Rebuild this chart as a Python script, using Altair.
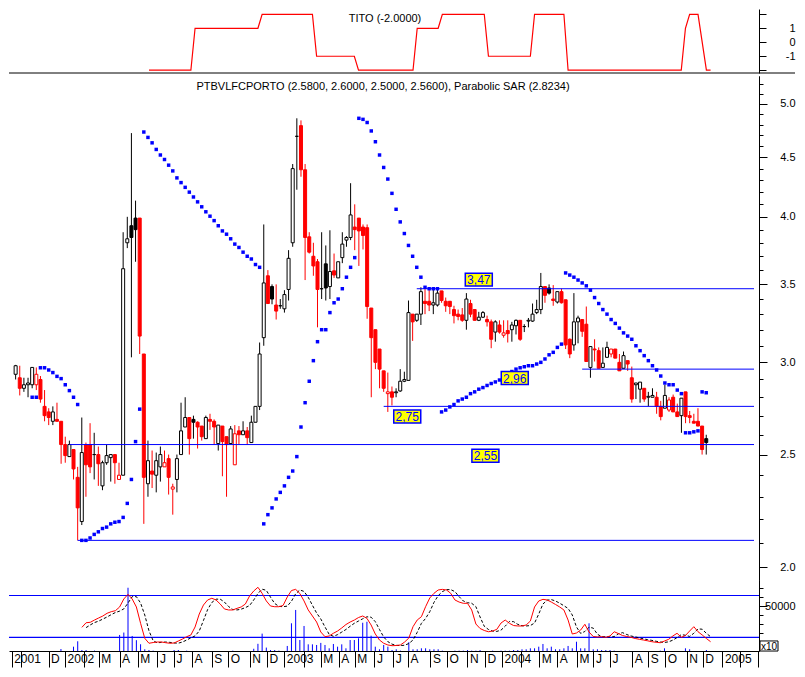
import json
import altair as alt
import pandas as pd

FONT = "Liberation Sans"
BLUE = "#0000ff"
RED = "#ff0000"

# ---------------- data (weekly bars, week 1 = early Oct 2001) ----------------
opens = [
    2.93, 2.91, 2.85, 2.87, 2.87, 2.87, 2.90, 2.75, 2.72, 2.67,
    2.68, 2.67, 2.55, 2.49, 2.525, 2.39, 2.19, 2.55, 2.55, 2.50,
    2.50, 2.35, 2.46, 2.485, 2.50, 2.38, 2.40, 3.80, 3.93, 3.99,
    3.99, 3.05, 2.36, 2.42, 2.40, 2.44, 2.44, 2.48, 2.335, 2.38,
    2.50, 2.64, 2.69, 2.68, 2.665, 2.645, 2.58, 2.68, 2.67, 2.555,
    2.645, 2.59, 2.555, 2.45, 2.62, 2.60, 2.62, 2.56, 2.665, 2.75,
    3.15, 3.56, 3.485, 3.36, 3.355, 3.335, 3.465, 3.80, 4.69, 4.79,
    4.39, 3.845, 3.70, 3.66, 3.47, 3.645, 3.485, 3.595, 3.545, 3.69,
    3.82, 3.84, 3.92, 3.99, 3.92, 3.915, 3.34, 3.20, 3.08, 2.95,
    2.82, 2.83, 2.825, 2.835, 2.89, 2.895, 3.30, 3.26, 3.30, 3.385,
    3.385, 3.36, 3.36, 3.455, 3.385, 3.385, 3.33, 3.30, 3.295, 3.26,
    3.37, 3.33, 3.26, 3.28, 3.265, 3.25, 3.185, 3.23, 3.165, 3.195,
    3.20, 3.225, 3.26, 3.22, 3.255, 3.255, 3.31, 3.33, 3.485, 3.475,
    3.40, 3.38, 3.45, 3.395, 3.14, 3.105, 3.25, 3.265, 3.235, 2.97,
    3.08, 3.07, 2.97, 3.03, 3.05, 3.08, 3.00, 2.965, 3.01, 2.91,
    2.87, 2.845, 2.85, 2.80, 2.80, 2.80, 2.75, 2.74, 2.73, 2.80,
    2.72, 2.70, 2.83, 2.70, 2.67, 2.67, 2.645, 2.58]
highs = [
    2.985, 2.98, 2.91, 2.91, 2.97, 2.97, 2.92, 2.84, 2.74, 2.75,
    2.77, 2.67, 2.59, 2.57, 2.525, 2.44, 2.69, 2.56, 2.66, 2.61,
    2.54, 2.47, 2.55, 2.50, 2.50, 2.46, 3.88, 4.00, 4.72, 4.13,
    3.99, 3.05, 2.57, 2.52, 2.51, 2.54, 2.52, 2.50, 2.36, 2.50,
    2.77, 2.80, 2.69, 2.70, 2.67, 2.645, 2.70, 2.71, 2.68, 2.65,
    2.645, 2.59, 2.645, 2.65, 2.645, 2.67, 2.64, 2.70, 2.75, 3.12,
    3.94, 3.60, 3.50, 3.50, 3.40, 3.46, 3.745, 4.44, 4.86, 4.84,
    4.44, 3.88, 3.80, 3.68, 3.88, 3.78, 3.895, 3.72, 3.66, 3.88,
    3.85, 4.275, 4.10, 3.99, 3.94, 3.94, 3.34, 3.20, 3.08, 2.95,
    2.94, 2.86, 2.85, 2.96, 2.945, 3.39, 3.30, 3.30, 3.48, 3.47,
    3.47, 3.47, 3.47, 3.455, 3.41, 3.385, 3.355, 3.33, 3.34, 3.44,
    3.395, 3.33, 3.315, 3.32, 3.29, 3.265, 3.26, 3.26, 3.26, 3.26,
    3.25, 3.265, 3.26, 3.235, 3.275, 3.37, 3.395, 3.58, 3.485, 3.50,
    3.495, 3.45, 3.47, 3.395, 3.145, 3.44, 3.29, 3.265, 3.35, 3.095,
    3.14, 3.09, 3.09, 3.125, 3.08, 3.08, 3.05, 3.065, 3.01, 2.975,
    2.88, 2.885, 2.85, 2.83, 2.85, 2.83, 2.78, 2.87, 2.80, 2.815,
    2.765, 2.795, 2.83, 2.725, 2.71, 2.74, 2.645, 2.60]
lows = [
    2.90, 2.81, 2.83, 2.80, 2.85, 2.84, 2.77, 2.67, 2.65, 2.65,
    2.67, 2.455, 2.46, 2.49, 2.38, 2.11, 2.175, 2.30, 2.41, 2.38,
    2.35, 2.33, 2.45, 2.37, 2.36, 2.38, 2.40, 3.76, 3.03, 3.66,
    3.05, 2.18, 2.30, 2.34, 2.32, 2.37, 2.44, 2.31, 2.22, 2.32,
    2.50, 2.64, 2.50, 2.58, 2.53, 2.57, 2.58, 2.625, 2.55, 2.52,
    2.395, 2.30, 2.55, 2.45, 2.55, 2.60, 2.55, 2.56, 2.665, 2.73,
    3.10, 3.37, 3.365, 3.265, 3.335, 3.31, 3.39, 3.77, 4.22, 4.33,
    3.53, 3.72, 3.56, 3.215, 3.40, 3.39, 3.40, 3.545, 3.545, 3.65,
    3.77, 3.82, 3.745, 3.63, 3.75, 3.27, 2.80, 2.96, 2.85, 2.83,
    2.72, 2.755, 2.80, 2.83, 2.885, 2.895, 3.13, 3.25, 3.23, 3.30,
    3.32, 3.30, 3.35, 3.375, 3.315, 3.30, 3.24, 3.26, 3.25, 3.20,
    3.28, 3.26, 3.255, 3.275, 3.22, 3.085, 3.125, 3.175, 3.15, 3.12,
    3.125, 3.17, 3.13, 3.185, 3.215, 3.25, 3.30, 3.30, 3.375, 3.43,
    3.355, 3.37, 3.37, 3.08, 3.025, 3.07, 3.115, 3.155, 3.005, 2.91,
    3.005, 2.965, 2.97, 3.03, 3.03, 3.025, 2.95, 2.965, 2.95, 2.77,
    2.79, 2.77, 2.775, 2.75, 2.80, 2.71, 2.675, 2.74, 2.72, 2.72,
    2.695, 2.61, 2.66, 2.66, 2.66, 2.645, 2.50, 2.50]
closes = [
    2.98, 2.85, 2.87, 2.88, 2.97, 2.93, 2.79, 2.70, 2.69, 2.72,
    2.67, 2.55, 2.495, 2.55, 2.43, 2.25, 2.51, 2.45, 2.44, 2.50,
    2.455, 2.46, 2.495, 2.50, 2.46, 2.40, 3.61, 3.83, 3.84, 3.90,
    3.16, 2.39, 2.47, 2.405, 2.47, 2.50, 2.46, 2.39, 2.345, 2.48,
    2.62, 2.69, 2.58, 2.665, 2.64, 2.59, 2.69, 2.67, 2.64, 2.65,
    2.565, 2.55, 2.63, 2.605, 2.60, 2.62, 2.585, 2.665, 2.75, 3.05,
    3.51, 3.37, 3.40, 3.32, 3.355, 3.43, 3.685, 4.40, 4.69, 4.39,
    3.84, 3.73, 3.63, 3.465, 3.47, 3.475, 3.59, 3.565, 3.66, 3.79,
    3.84, 4.015, 3.90, 3.89, 3.855, 3.35, 3.15, 3.00, 2.96, 2.85,
    2.83, 2.80, 2.83, 2.89, 2.90, 3.31, 3.25, 3.30, 3.45, 3.37,
    3.36, 3.375, 3.44, 3.39, 3.355, 3.35, 3.29, 3.285, 3.26, 3.40,
    3.30, 3.26, 3.28, 3.31, 3.25, 3.14, 3.25, 3.185, 3.18, 3.175,
    3.23, 3.26, 3.14, 3.22, 3.26, 3.30, 3.33, 3.485, 3.425, 3.44,
    3.39, 3.45, 3.375, 3.105, 3.05, 3.25, 3.275, 3.19, 3.005, 3.095,
    3.075, 2.965, 2.995, 3.09, 3.08, 3.025, 2.95, 3.04, 2.99, 2.79,
    2.88, 2.885, 2.79, 2.805, 2.81, 2.75, 2.695, 2.81, 2.785, 2.72,
    2.695, 2.795, 2.695, 2.69, 2.66, 2.645, 2.525, 2.56]
sar = [
    None, None, None, None, 2.80, 2.80, 2.968, 2.968, 2.955, 2.94,
    2.918, 2.905, 2.87, 2.837, 2.80, 2.76, 2.11, 2.11, 2.12, 2.135,
    2.146, 2.16, 2.166, 2.18, 2.187, 2.19, 2.208, 2.27, 2.38, 2.565,
    2.735, 4.73, 4.68, 4.63, 4.57, 4.52, 4.48, 4.43, 4.38, 4.32,
    4.28, 4.24, 4.20, 4.16, 4.12, 4.08, 4.04, 4.005, 3.97, 3.93,
    3.89, 3.865, 3.83, 3.79, 3.765, 3.73, 3.70, 3.68, 3.64, 3.62,
    2.18, 2.22, 2.25, 2.29, 2.32, 2.35, 2.39, 2.42, 2.49, 2.64,
    2.77, 2.89, 3.01, 3.125, 3.20, 3.20, 3.31, 3.375, 3.40, 3.47,
    3.55, 3.62, 3.69, 4.86, 4.85, 4.82, 4.74, 4.64, 4.52, 4.41,
    4.31, 4.19, 4.06, 3.96, 3.87, 3.78, 3.70, 3.62, 3.55, 3.48,
    3.47, 3.47, 3.47, 2.72, 2.73, 2.747, 2.76, 2.78, 2.79, 2.80,
    2.82, 2.83, 2.845, 2.854, 2.866, 2.877, 2.886, 2.897, 2.91, 2.925,
    2.946, 2.96, 2.968, 2.974, 2.98, 2.98, 2.99, 3.00, 3.02, 3.045,
    3.06, 3.09, 3.11, 3.58, 3.565, 3.55, 3.53, 3.51, 3.49, 3.46,
    3.41, 3.37, 3.33, 3.30, 3.265, 3.24, 3.21, 3.18, 3.16, 3.14,
    3.10, 3.07, 3.04, 3.01, 2.98, 2.955, 2.92, 2.88, 2.87, 2.87,
    2.84, 2.82, 2.61, 2.61, 2.615, 2.62, 2.83, 2.825]
volume = [
    0, 0, 0, 0, 0, 0, 0, 0, 0, 0,
    0, 0, 2200, 0, 0, 4800, 10800, 1100, 1100, 0,
    500, 0, 0, 0, 0, 0, 17800, 20500, 70300, 16700,
    12000, 7500, 1900, 1100, 400, 0, 0, 0, 0, 1100,
    1100, 0, 400, 0, 0, 0, 0, 0, 0, 0,
    0, 0, 0, 400, 0, 0, 0, 0, 2500, 8000,
    19300, 3800, 1100, 1100, 400, 0, 5600, 30800, 45600, 12200,
    27800, 7400, 7400, 6700, 9000, 6700, 3000, 7800, 4800, 7400,
    3000, 12200, 12200, 14100, 31400, 32500, 17000, 4800, 1900, 6700,
    4800, 1100, 1900, 400, 0, 9800, 1900, 1900, 3000, 3000,
    1900, 1900, 1900, 400, 0, 0, 400, 400, 400, 1100,
    400, 400, 1100, 0, 0, 400, 0, 400, 400, 400,
    1100, 1100, 1900, 1900, 3000, 3000, 4800, 7800, 3000, 4800,
    1900, 1900, 3000, 5600, 3000, 10300, 3000, 3000, 30800, 1900,
    1900, 1100, 1100, 1100, 400, 0, 0, 0, 0, 0,
    0, 0, 0, 0, 0, 400, 3000, 0, 0, 0,
    0, 3000, 1900, 0, 0, 0, 1100, 0]

# volume oscillator (solid red starts week 18, dashed black starts week 19)
osc_fast_start = 18
osc_fast = [
    26300, 31400, 31900, 34400, 36700, 38900, 41900, 43700, 44800, 48900,
    57800, 63000, 57800, 48900, 30800, 14100, 8600, 9400, 10000, 10000,
    9200, 8600, 8900, 11100, 13300, 15900, 17800, 26700, 41100, 51100,
    56700, 58600, 56700, 52200, 46700, 45600, 45600, 47400, 48900, 52200,
    61100, 66700, 70800, 64100, 55600, 50000, 49200, 49200, 50600, 60000,
    67200, 68500, 63900, 55600, 45600, 38900, 32200, 21100, 15900, 16700,
    19700, 22200, 25600, 29400, 32200, 34400, 37200, 38900, 36300, 28900,
    18900, 12200, 8600, 6700, 5900, 6100, 6700, 10000, 14400, 27000,
    34400, 38100, 49200, 58900, 64100, 67800, 68500, 67800, 64100, 56700,
    54400, 53000, 53000, 45600, 30000, 25000, 22800, 21400, 22200, 24100,
    31100, 34400, 30800, 28300, 27800, 27800, 28900, 33300, 48900, 55600,
    57400, 56700, 54400, 51700, 48900, 45600, 34400, 18900, 20000, 23300,
    29700, 21100, 16100, 15600, 15900, 15200, 16700, 21400, 19400, 17200,
    16100, 15200, 13900, 13000, 12200, 11300, 10300, 9700, 9200, 11100,
    13000, 16700, 19700, 15200, 17200, 22200, 27000, 21400, 17800, 13900,
    10300]
osc_slow_start = 19
osc_slow = [
    26000, 29000, 31600, 33200, 35500, 37800, 40400, 42800, 44300, 46800,
    53300, 60400, 60400, 53300, 40000, 22500, 11400, 9000, 9700, 10000,
    9600, 8900, 8700, 10000, 12200, 14600, 16800, 22200, 33900, 46100,
    53900, 57600, 57600, 54400, 49400, 46100, 45600, 46500, 48200, 50500,
    56700, 63900, 68700, 67400, 59800, 52800, 49600, 49200, 49900, 55300,
    63600, 67800, 66200, 59700, 50800, 42200, 35600, 26700, 18500, 16300,
    18200, 21000, 23900, 27500, 30800, 33300, 35800, 38000, 37600, 32600,
    23900, 15600, 10400, 7600, 6300, 6000, 6400, 8300, 12200, 20700,
    30700, 36200, 43700, 54000, 61500, 66000, 68200, 68200, 66000, 60400,
    55600, 53700, 53000, 49300, 37800, 27500, 23900, 22100, 21800, 23200,
    27600, 32800, 32600, 29600, 28100, 27800, 28300, 31100, 41100, 52200,
    56500, 57100, 55600, 53100, 50300, 47300, 40000, 26700, 19500, 21700,
    26500, 25400, 18600, 15900, 15800, 15600, 16000, 19100, 20400, 18300,
    16700, 15700, 14600, 13500, 12600, 11800, 10800, 10000, 9500, 10200,
    12100, 14900, 18200, 17500, 16200, 19700, 24600, 24200, 19600, 15900]
osc_levels = [61700, 15200]

# TITO indicator corner points
tito_weeks = [34, 44, 45, 60, 61, 73, 74, 83, 84, 97, 98, 103, 104, 114, 115,
              125, 126, 133, 134, 161, 162, 163, 165, 167, 168]
tito_vals = [-2, -2, 1, 1, 2, 2, -1, -1, -2, -2, 1, 1, 2, 2, -1,
             -1, 2, 2, -2, -2, 1, 2, 2, -2, -2]

# support / resistance lines and their labels
level_prices = [3.47, 2.96, 2.75, 2.55, 2.11]
level_from = [98, 138, 90, 14, 16]
tag_text = ["3,47", "2,96", "2,75", "2,55"]
tag_weeks = [113, 121.7, 95.7, 114.6]
tag_prices = [3.533, 2.908, 2.695, 2.494]

# time axis (week positions of month starts)
month_ticks = [1.24, 3.37, 10.05, 13.99, 18.4, 22.02, 26.98, 31.3, 36.02, 39.96,
               44.28, 49.0, 52.94, 58.04, 62.15, 66.3, 70.88, 74.97, 79.29, 83.07,
               87.79, 92.27, 95.81, 101.17, 105.11, 109.98, 114.16, 118.24, 122.66,
               127.14, 131.39, 136.11, 140.06, 143.98, 149.33, 153.11, 157.2, 162.32,
               166.1, 170.82, 174.9, 179.24]
month_labels = ["2001", "", "D", "2002", "", "M", "A", "M", "J", "J", "A", "S", "O", "N", "D",
                "2003", "", "M", "A", "M", "J", "J", "A", "S", "O", "N", "D",
                "2004", "", "M", "A", "M", "J", "J", "A", "S", "O", "N", "D",
                "2005", "", ""]
price_major = [2.0, 2.5, 3.0, 3.5, 4.0, 4.5, 5.0]
price_minor = [2.0, 2.1, 2.2, 2.3, 2.4, 2.5, 2.6, 2.7, 2.8, 2.9, 3.0, 3.1, 3.2, 3.3,
               3.4, 3.5, 3.6, 3.7, 3.8, 3.9, 4.0, 4.1, 4.2, 4.3, 4.4, 4.5, 4.6, 4.7,
               4.8, 4.9, 5.0, 5.1, 5.2]

MAIN_TITLE = "PTBVLFCPORTO (2.5800, 2.6000, 2.5000, 2.5600), Parabolic SAR (2.8234)"
TITO_TITLE = "TITO (-2.0000)"

# ---------------- layout ----------------
W = 750
H_TITO, H_MAIN, H_VOL = 64, 504, 71
X_DOMAIN = [0.606, 179.55]
LAB_PAD = 28


def xs():
    return alt.Scale(domain=X_DOMAIN, nice=False, zero=False)


def right_axis(values, tick, labels=True, fmt=None, expr=None):
    kw = dict(orient="right", values=values, tickSize=tick, title=None, grid=False,
              domainColor="black", tickColor="black", labelColor="black",
              labelFont=FONT, labelFontSize=11, labelAlign="right",
              labelPadding=LAB_PAD + (8 - tick), labelOverlap=False, labels=labels)
    if fmt:
        kw["format"] = fmt
    if expr:
        kw["labelExpr"] = expr
    return alt.Axis(**kw)


weeks = list(range(1, len(closes) + 1))
df = pd.DataFrame({"week": weeks, "open": opens, "high": highs, "low": lows,
                   "close": closes, "sar": sar, "vol": volume})
prev = [None] + closes[:-1]
df["dir"] = ["down" if (p is not None and c < p) else "up" for c, p in zip(closes, prev)]
df["body"] = [d + ("_hollow" if c > o else "_filled") for d, c, o in zip(df["dir"], closes, opens)]

dir_scale = alt.Scale(domain=["up", "down"], range=["#000000", RED])
fill_scale = alt.Scale(domain=["up_hollow", "up_filled", "down_hollow", "down_filled"],
                       range=["#ffffff", "#000000", "#ffffff", RED])
ysc = alt.Scale(type="log", domain=[1.951, 5.284], nice=False)

# ---- TITO panel ----
tito_df = pd.DataFrame({"week": tito_weeks, "tito": tito_vals})
tito_line = alt.Chart(tito_df).mark_line(color=RED, strokeWidth=1.2).encode(
    x=alt.X("week:Q", scale=xs(), axis=None),
    y=alt.Y("tito:Q", scale=alt.Scale(domain=[-2.2, 2.38], nice=False, zero=False),
            axis=alt.Axis(orient="right", values=[-2, -1, 0, 1, 2], tickSize=7, title=None,
                          grid=False, domainColor="black", tickColor="black",
                          labelColor="black", labelFont=FONT, labelFontSize=11,
                          labelAlign="right", labelPadding=29, labelOverlap=False,
                          labelExpr="datum.value == 1 ? '1' : datum.value == 0 ? '0' : datum.value == -1 ? '-1' : ''")),
)
one = pd.DataFrame({"t": [TITO_TITLE]})
tito_title = alt.Chart(one).mark_text(font=FONT, fontSize=11, color="black",
                                      align="center", baseline="middle").encode(
    x=alt.value(376), y=alt.value(10), text="t:N")
separator = alt.Chart(one).mark_rule(color="black", strokeWidth=1).encode(
    x=alt.value(0), x2=alt.value(786), y=alt.value(H_TITO))
tito = alt.layer(tito_line, tito_title, separator).properties(width=W, height=H_TITO)

# ---- main price panel ----
wick = alt.Chart(df).mark_rule(strokeWidth=1, clip=True).encode(
    x=alt.X("week:Q", scale=xs(), axis=None),
    y=alt.Y("low:Q", scale=ysc, axis=right_axis(price_major, 8, fmt=".1f")),
    y2="high:Q",
    color=alt.Color("dir:N", scale=dir_scale, legend=None),
)
body = alt.Chart(df).mark_bar(size=3, strokeWidth=1, clip=True).encode(
    x=alt.X("week:Q", scale=xs(), axis=None),
    y=alt.Y("open:Q", scale=ysc, axis=right_axis(price_minor, 4, labels=False)),
    y2="close:Q",
    fill=alt.Fill("body:N", scale=fill_scale, legend=None),
    stroke=alt.Stroke("dir:N", scale=dir_scale, legend=None),
)
lv_df = pd.DataFrame({"start": level_from, "end": [X_DOMAIN[1]] * len(level_from),
                      "price": level_prices})
levels = alt.Chart(lv_df).mark_rule(color=BLUE, strokeWidth=1).encode(
    x=alt.X("start:Q", scale=xs(), axis=None), x2="end:Q",
    y=alt.Y("price:Q", scale=ysc, axis=None))
sar_df = df[df["sar"].notna()]
sar_pts = alt.Chart(sar_df).mark_square(size=12, color=BLUE, opacity=1).encode(
    x=alt.X("week:Q", scale=xs(), axis=None),
    y=alt.Y("sar:Q", scale=ysc, axis=None))
tag_df = pd.DataFrame({"week": tag_weeks, "price": tag_prices, "label": tag_text})
tag_box = alt.Chart(tag_df).mark_point(
    shape="M-1,-0.48L1,-0.48L1,0.48L-1,0.48Z", size=729, filled=True,
    fill="#ffff00", stroke=BLUE, strokeWidth=1.5, opacity=1).encode(
    x=alt.X("week:Q", scale=xs(), axis=None),
    y=alt.Y("price:Q", scale=ysc, axis=None))
tag_txt = alt.Chart(tag_df).mark_text(font=FONT, fontSize=12, color=BLUE,
                                      align="center", baseline="middle", dy=0.5).encode(
    x=alt.X("week:Q", scale=xs(), axis=None),
    y=alt.Y("price:Q", scale=ysc, axis=None),
    text="label:N")
main_title = alt.Chart(pd.DataFrame({"t": [MAIN_TITLE]})).mark_text(
    font=FONT, fontSize=11, color="black", align="center", baseline="middle").encode(
    x=alt.value(374), y=alt.value(11), text="t:N")
main = alt.layer(wick, body, levels, sar_pts, tag_box, tag_txt, main_title).resolve_axis(
    y="independent").properties(width=W, height=H_MAIN)

# ---- volume / oscillator panel ----
label_expr = ("[" + ",".join(json.dumps(s) for s in month_labels) + "][indexof(["
              + ",".join(str(t) for t in month_ticks) + "], datum.value)]")
x_bottom = alt.Axis(values=month_ticks, labelExpr=label_expr, tickSize=16, labelPadding=-14,
                    labelAlign="left", labelBaseline="top", labelOffset=2, labelFlush=False,
                    labelOverlap=False, labelFont=FONT, labelFontSize=12, labelColor="black",
                    domainColor="black", tickColor="black", title=None, grid=False,
                    orient="bottom")
vsc = alt.Scale(domain=[0, 78900], nice=False, zero=True)
vdf = df[df["vol"] > 0].copy()
vdf["zero"] = 0
vol_bars = alt.Chart(vdf).mark_rule(color=BLUE, strokeWidth=1).encode(
    x=alt.X("week:Q", scale=xs(), axis=x_bottom),
    y=alt.Y("vol:Q", scale=vsc, axis=right_axis([50000], 8, fmt="d")),
    y2="zero:Q")
fast_df = pd.DataFrame({"week": list(range(osc_fast_start, osc_fast_start + len(osc_fast))),
                        "v": osc_fast})
slow_df = pd.DataFrame({"week": list(range(osc_slow_start, osc_slow_start + len(osc_slow))),
                        "v": osc_slow})
slow_line = alt.Chart(slow_df).mark_line(color="black", strokeWidth=1, strokeDash=[3, 2]).encode(
    x=alt.X("week:Q", scale=xs(), axis=x_bottom),
    y=alt.Y("v:Q", scale=vsc, axis=right_axis([20000, 30000, 40000, 60000, 70000], 4, labels=False)))
fast_line = alt.Chart(fast_df).mark_line(color=RED, strokeWidth=1).encode(
    x=alt.X("week:Q", scale=xs(), axis=x_bottom),
    y=alt.Y("v:Q", scale=vsc, axis=None))
olv_df = pd.DataFrame({"start": [X_DOMAIN[0]] * 2, "end": [X_DOMAIN[1]] * 2, "v": osc_levels})
osc_lv = alt.Chart(olv_df).mark_rule(color=BLUE, strokeWidth=1.2).encode(
    x=alt.X("start:Q", scale=xs(), axis=x_bottom), x2="end:Q",
    y=alt.Y("v:Q", scale=vsc, axis=None))
x10 = pd.DataFrame({"t": ["x10"]})
x10_box = alt.Chart(x10).mark_point(shape="M-1,-0.56L1,-0.56L1,0.56L-1,0.56Z", size=324,
                                    filled=False, stroke="black", strokeWidth=1, opacity=1).encode(
    x=alt.value(760), y=alt.value(66))
x10_txt = alt.Chart(x10).mark_text(font=FONT, fontSize=10, color="black", align="center",
                                   baseline="middle").encode(
    x=alt.value(760), y=alt.value(66.5), text="t:N")
vol = alt.layer(osc_lv, vol_bars, slow_line, fast_line, x10_box, x10_txt).resolve_axis(
    y="independent").properties(width=W, height=H_VOL)

chart = alt.vconcat(tito, main, vol, spacing=0).properties(padding=0).configure(
    background="white").configure_view(strokeWidth=0)

chart.save("out.html", embed_options={"renderer": "svg", "actions": False})
